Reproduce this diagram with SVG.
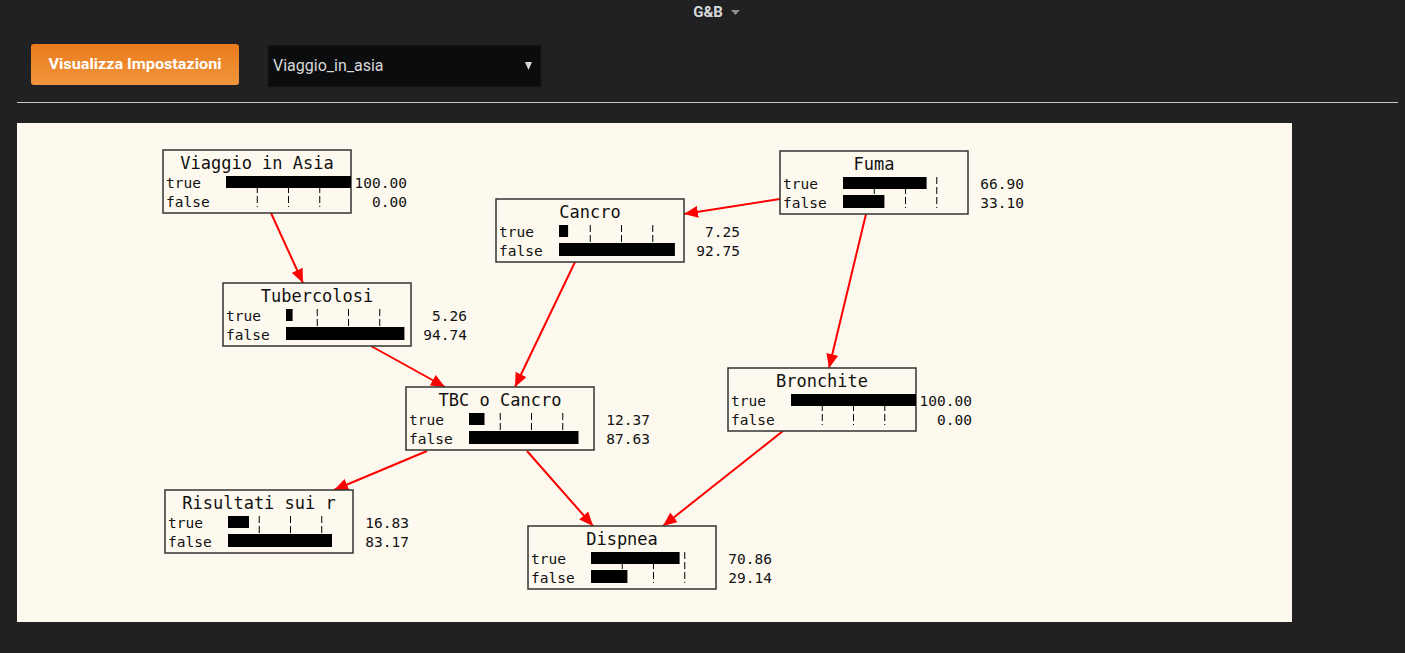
<svg xmlns="http://www.w3.org/2000/svg" width="1405" height="653" viewBox="0 0 1405 653">
<defs>
<linearGradient id="btn" x1="0" y1="0" x2="0" y2="1">
<stop offset="0" stop-color="#eb7b1c"/>
<stop offset="1" stop-color="#f0953e"/>
</linearGradient>
<marker id="arr" viewBox="0 0 14 12" refX="14" refY="6" markerWidth="14" markerHeight="12" markerUnits="userSpaceOnUse" orient="auto">
<path d="M0,0 L14,6 L0,12 Z" fill="#ff0000"/>
</marker>
<style>
.box{fill:#fdf9ef;stroke:#333;stroke-width:1.5}
.title{font-family:"DejaVu Sans Mono",monospace;font-size:17px;fill:#111;text-anchor:middle}
.lbl{font-family:"DejaVu Sans Mono",monospace;font-size:14.5px;fill:#111}
.val{font-family:"DejaVu Sans Mono",monospace;font-size:14.5px;fill:#111;text-anchor:end}
.bar{fill:#000}
.tick{stroke:#000;stroke-width:1;stroke-dasharray:7,3}
.edge{stroke:#ff0000;stroke-width:2;fill:none;marker-end:url(#arr)}
</style>
<g id="ticks">
<line class="tick" x1="94.25" y1="26" x2="94.25" y2="57"/>
<line class="tick" x1="125.5" y1="26" x2="125.5" y2="57"/>
<line class="tick" x1="156.75" y1="26" x2="156.75" y2="57"/>
</g>
</defs>
<rect x="0" y="0" width="1405" height="653" fill="#212124"/>
<g id="header">
<text x="708" y="17" font-family="Roboto, 'Liberation Sans', sans-serif" font-size="15" font-weight="bold" fill="#d8d9da" text-anchor="middle">G&amp;B</text>
<path d="M731,10 L740,10 L735.5,15 Z" fill="#8e8e8e"/>
</g>
<g id="button">
<rect x="31" y="44" width="208" height="41" rx="3" fill="url(#btn)"/>
<text x="135" y="69" font-family="Roboto, 'Liberation Sans', sans-serif" font-size="15" font-weight="bold" fill="#ffffff" text-anchor="middle" textLength="173" lengthAdjust="spacingAndGlyphs">Visualizza Impostazioni</text>
</g>
<g id="select">
<rect x="268" y="45" width="273" height="42" fill="#0b0c0e" stroke="#1a1a1c"/>
<text x="273" y="71" font-family="Roboto, 'Liberation Sans', sans-serif" font-size="16" fill="#d8d9da">Viaggio_in_asia</text>
<path d="M525,62 L532,62 L528.5,70 Z" fill="#d8d9da"/>
</g>
<line x1="17" y1="102.5" x2="1398" y2="102.5" stroke="#c6c6c6" stroke-width="1"/>
<rect x="17" y="123" width="1275" height="499" fill="#fdf9ef"/>

<g id="connectors">
<line class="edge" x1="271" y1="213" x2="303" y2="283"/>
<line class="edge" x1="780" y1="199" x2="684" y2="214"/>
<line class="edge" x1="866" y1="214" x2="829" y2="368"/>
<line class="edge" x1="575" y1="262" x2="515" y2="387"/>
<line class="edge" x1="371" y1="346" x2="445" y2="387"/>
<line class="edge" x1="427" y1="451" x2="334" y2="490"/>
<line class="edge" x1="527" y1="451" x2="593" y2="526"/>
<line class="edge" x1="783" y1="431" x2="663" y2="526"/>
</g>

<g id="node-viaggio" transform="translate(163,150)">
<rect class="box" x="0" y="0" width="188" height="63"/>
<text class="title" x="94" y="19">Viaggio in Asia</text>
<text class="lbl" x="3" y="38">true</text>
<text class="lbl" x="3" y="57">false</text>
<use href="#ticks"/>
<rect class="bar" x="63" y="26" width="125" height="12"/>
<text class="val" x="244" y="38">100.00</text>
<text class="val" x="244" y="57">0.00</text>
</g>

<g id="node-tubercolosi" transform="translate(223,283)">
<rect class="box" x="0" y="0" width="188" height="63"/>
<text class="title" x="94" y="19">Tubercolosi</text>
<text class="lbl" x="3" y="38">true</text>
<text class="lbl" x="3" y="57">false</text>
<use href="#ticks"/>
<rect class="bar" x="63" y="26" width="6.6" height="12"/>
<rect class="bar" x="63" y="44" width="118.4" height="13"/>
<text class="val" x="244" y="38">5.26</text>
<text class="val" x="244" y="57">94.74</text>
</g>

<g id="node-fuma" transform="translate(780,151)">
<rect class="box" x="0" y="0" width="188" height="63"/>
<text class="title" x="94" y="19">Fuma</text>
<text class="lbl" x="3" y="38">true</text>
<text class="lbl" x="3" y="57">false</text>
<use href="#ticks"/>
<rect class="bar" x="63" y="26" width="83.6" height="12"/>
<rect class="bar" x="63" y="44" width="41.4" height="13"/>
<text class="val" x="244" y="38">66.90</text>
<text class="val" x="244" y="57">33.10</text>
</g>

<g id="node-cancro" transform="translate(496,199)">
<rect class="box" x="0" y="0" width="188" height="63"/>
<text class="title" x="94" y="19">Cancro</text>
<text class="lbl" x="3" y="38">true</text>
<text class="lbl" x="3" y="57">false</text>
<use href="#ticks"/>
<rect class="bar" x="63" y="26" width="9.1" height="12"/>
<rect class="bar" x="63" y="44" width="115.9" height="13"/>
<text class="val" x="244" y="38">7.25</text>
<text class="val" x="244" y="57">92.75</text>
</g>

<g id="node-tbc" transform="translate(406,387)">
<rect class="box" x="0" y="0" width="188" height="63"/>
<text class="title" x="94" y="19">TBC o Cancro</text>
<text class="lbl" x="3" y="38">true</text>
<text class="lbl" x="3" y="57">false</text>
<use href="#ticks"/>
<rect class="bar" x="63" y="26" width="15.5" height="12"/>
<rect class="bar" x="63" y="44" width="109.5" height="13"/>
<text class="val" x="244" y="38">12.37</text>
<text class="val" x="244" y="57">87.63</text>
</g>

<g id="node-bronchite" transform="translate(728,368)">
<rect class="box" x="0" y="0" width="188" height="63"/>
<text class="title" x="94" y="19">Bronchite</text>
<text class="lbl" x="3" y="38">true</text>
<text class="lbl" x="3" y="57">false</text>
<use href="#ticks"/>
<rect class="bar" x="63" y="26" width="125" height="12"/>
<text class="val" x="244" y="38">100.00</text>
<text class="val" x="244" y="57">0.00</text>
</g>

<g id="node-risultati" transform="translate(165,490)">
<rect class="box" x="0" y="0" width="188" height="63"/>
<text class="title" x="94" y="19">Risultati sui r</text>
<text class="lbl" x="3" y="38">true</text>
<text class="lbl" x="3" y="57">false</text>
<use href="#ticks"/>
<rect class="bar" x="63" y="26" width="21" height="12"/>
<rect class="bar" x="63" y="44" width="104" height="13"/>
<text class="val" x="244" y="38">16.83</text>
<text class="val" x="244" y="57">83.17</text>
</g>

<g id="node-dispnea" transform="translate(528,526)">
<rect class="box" x="0" y="0" width="188" height="63"/>
<text class="title" x="94" y="19">Dispnea</text>
<text class="lbl" x="3" y="38">true</text>
<text class="lbl" x="3" y="57">false</text>
<use href="#ticks"/>
<rect class="bar" x="63" y="26" width="88.6" height="12"/>
<rect class="bar" x="63" y="44" width="36.4" height="13"/>
<text class="val" x="244" y="38">70.86</text>
<text class="val" x="244" y="57">29.14</text>
</g>
</svg>
